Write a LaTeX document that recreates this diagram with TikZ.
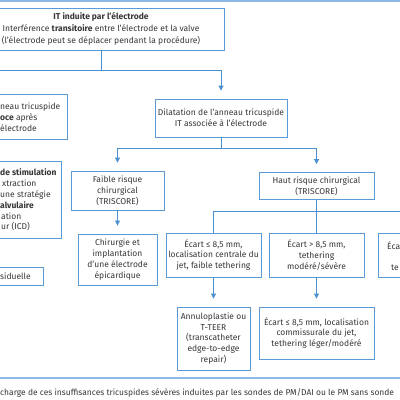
\documentclass[tikz,border=0pt]{standalone}
\usepackage{fontspec}
\setmainfont{Fira Sans}
\usetikzlibrary{arrows.meta}
\definecolor{boxblue}{RGB}{91,155,213}
\definecolor{arrblue}{RGB}{74,144,208}
\definecolor{lineblue}{RGB}{141,186,226}
\definecolor{txtgray}{RGB}{55,55,55}
\begin{document}
\begin{tikzpicture}[x=1pt,y=-1pt,
  box/.style={draw=boxblue,line width=0.9pt,fill=white,text=txtgray,align=center,inner sep=0pt,
    font=\fontsize{8.5}{10.8}\selectfont},
  txt/.style={text=txtgray,align=left,inner sep=0pt,anchor=west,font=\fontsize{8.5}{10.8}\selectfont},
  conn/.style={draw=arrblue,line width=0.9pt},
  arr/.style={conn,-{Triangle[width=5pt,length=5pt]},shorten >=8pt}]
\useasboundingbox (0,0) rectangle (400,400);
\clip (0,0) rectangle (400,400);
\fill[white] (0,0) rectangle (400,400);
% frame lines
\coordinate (tl) at (0,1);
\coordinate (tr) at (400,1);
\draw[lineblue,line width=1.5pt] (tl) -- (tr);
\coordinate (bl) at (0,378);
\coordinate (br) at (400,378);
\draw[lineblue,line width=1.5pt] (bl) -- (br);
% boxes
\node[box,minimum width=246pt,minimum height=42pt,font=\fontsize{8.5}{12}\selectfont] (top) at (101,29)
  {\textbf{IT induite par l'électrode}\\Interférence \textbf{transitoire} entre l'électrode et la valve\\(l'électrode peut se déplacer pendant la procédure)};
\node[box,minimum width=132pt,minimum height=38pt] (dil) at (221,118)
  {Dilatation de l'anneau tricuspide\\IT associée à l'électrode};
\node[box,minimum width=174pt,minimum height=45pt] (leftA) at (-20,116.5) {};
\node[txt] (leftAt) at (0,117.5) {neau tricuspide\\\textbf{oce} après\\électrode};
\node[box,minimum width=140pt,minimum height=77pt] (leftB) at (-9,199.5) {};
\node[txt] (leftBt) at (0,200) {\textbf{de stimulation}\\\hspace*{2pt}xtraction\\une stratégie\\\textbf{alvulaire}\\\hspace*{1pt}ation\\\hspace*{1pt}ur (ICD)};
\node[box,minimum width=100pt,minimum height=18pt] (leftC) at (-7,276) {};
\node[txt] (leftCt) at (0,276.5) {siduelle};
\node[box,minimum width=93pt,minimum height=39pt] (faible) at (117.5,190.5)
  {Faible risque\\chirurgical\\(TRISCORE)};
\node[box,minimum width=115pt,minimum height=27pt] (haut) at (316.5,186)
  {Haut risque chirurgical\\(TRISCORE)};
\node[box,minimum width=79pt,minimum height=51pt] (chir) at (117.5,259.5)
  {Chirurgie et\\implantation\\d'une électrode\\épicardique};
\node[box,minimum width=95pt,minimum height=44pt] (ecA) at (213.5,255)
  {Écart ≤ 8,5 mm,\\localisation centrale du\\jet, faible tethering};
\node[box,minimum width=95pt,minimum height=44pt] (ecB) at (316.5,255)
  {Écart > 8,5 mm,\\tethering\\modéré/sévère};
\node[box,minimum width=95pt,minimum height=44pt] (ecC) at (425.5,255) {};
\node[txt] (ecCt) at (387,256) {Éca\\\strut\\\hspace*{4pt}te};
\node[box,minimum width=73pt,minimum height=63pt] (annu) at (213.5,338.5)
  {Annuloplastie ou\\T-TEER\\(transcatheter\\edge-to-edge\\repair)};
\node[box,minimum width=115pt,minimum height=52pt] (ecD) at (316.5,333)
  {Écart ≤ 8,5 mm, localisation\\commissurale du jet,\\tethering léger/modéré};
% connectors
\draw[arr] (top.south) -- ++(0,20) -| (dil.north);
\draw[arr] (top.south) -- ++(0,20) -| (leftA.north);
\draw[arr] (dil.south) -- ++(0,11) -| (faible.north);
\draw[arr] (dil.south) -- ++(0,11) -| (haut.north);
\draw[conn] (haut.south) -- ++(0,11) -| (ecA.north);
\draw[conn] (haut.south) -- (ecB.north);
\draw[conn] (haut.south) -- ++(0,11) -| (ecC.north);
\draw[arr] (faible.south) -- (chir.north);
\draw[arr] (ecA.south) -- (annu.north);
\draw[arr] (ecB.south) -- (ecD.north);
% bottom caption
\node[txt,font=\fontsize{8.45}{10}\selectfont] (cap) at (0,393) {charge de ces insuffisances tricuspides sévères induites par les sondes de PM/DAI ou le PM sans sonde};
\end{tikzpicture}
\end{document}
